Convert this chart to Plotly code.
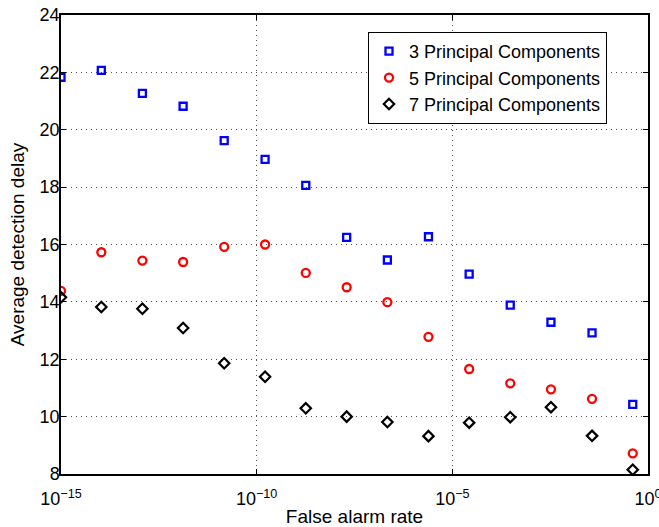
import plotly.graph_objects as go

# log10 of false alarm rate for each operating point
log_far = [-15.0, -13.97, -12.92, -11.88, -10.83, -9.785, -8.745, -7.70,
           -6.66, -5.61, -4.57, -3.52, -2.48, -1.43, -0.39]
far = [10 ** v for v in log_far]

pc3 = [21.83, 22.07, 21.27, 20.82, 19.62, 18.97, 18.06, 16.25,
       15.46, 16.27, 14.97, 13.89, 13.29, 12.92, 10.43]
pc5 = [14.38, 15.73, 15.44, 15.39, 15.92, 16.0, 15.01, 14.51,
       13.99, 12.78, 11.66, 11.16, 10.95, 10.62, 8.72]
pc7 = [14.16, 13.82, 13.76, 13.09, 11.86, 11.39, 10.29, 10.0,
       9.81, 9.32, 9.79, 9.98, 10.33, 9.33, 8.15]

names = ["3 Principal Components", "5 Principal Components", "7 Principal Components"]
x_tickvals = [1e-15, 1e-10, 1e-5, 1]
x_ticktext = ["10<sup>\u221215</sup>", "10<sup>\u221210</sup>", "10<sup>\u22125</sup>", "10<sup>0</sup>"]
y_tickvals = [8, 10, 12, 14, 16, 18, 20, 22, 24]

fig = go.Figure()
fig.add_trace(go.Scatter(x=far, y=pc3, mode="markers", name=names[0],
                         marker=dict(symbol="square-open", size=7, color="#0000ff",
                                     line=dict(width=2.3, color="#0000ff"))))
fig.add_trace(go.Scatter(x=far, y=pc5, mode="markers", name=names[1],
                         marker=dict(symbol="circle-open", size=8, color="#ff0000",
                                     line=dict(width=2.3, color="#ff0000"))))
fig.add_trace(go.Scatter(x=far, y=pc7, mode="markers", name=names[2],
                         marker=dict(symbol="diamond-open", size=8, color="#000000",
                                     line=dict(width=2.2, color="#000000"))))

font_family = "Liberation Sans, Arial, Helvetica, sans-serif"
grid_dash = "1px,4px"
fig.update_layout(
    width=659, height=527,
    margin=dict(l=61, r=11, t=15, b=53, autoexpand=False),
    paper_bgcolor="white", plot_bgcolor="white",
    font=dict(family=font_family, size=18, color="black"),
    showlegend=True,
    legend=dict(x=0.523, y=0.963, xanchor="left", yanchor="top",
                bgcolor="white", bordercolor="black", borderwidth=1,
                font=dict(size=18, color="black"), tracegroupgap=0,
                itemwidth=30),
)
fig.update_xaxes(
    type="log", range=[-15, 0], automargin=False,
    tickvals=x_tickvals, ticktext=x_ticktext,
    ticks="inside", ticklen=5, tickcolor="black",
    showline=True, linecolor="black", linewidth=1.5, mirror="ticks",
    showgrid=True, gridcolor="#555555", griddash=grid_dash, gridwidth=1,
    zeroline=False, ticklabeloverflow="allow", ticklabelstandoff=8,
    title=dict(text="False alarm rate", standoff=3, font=dict(size=19)),
    tickfont=dict(size=18),
)
fig.update_yaxes(
    range=[8, 24], tickvals=y_tickvals, automargin=False,
    ticks="inside", ticklen=5, tickcolor="black",
    showline=True, linecolor="black", linewidth=1.5, mirror="ticks",
    showgrid=True, gridcolor="#555555", griddash=grid_dash, gridwidth=1,
    zeroline=False, ticklabelstandoff=-4, ticklabeloverflow="allow",
    title=dict(text="Average detection delay", standoff=10, font=dict(size=19)),
    tickfont=dict(size=18),
)

fig.write_html("out.html", config={"displayModeBar": False})

# remove the browser's default body margin so the figure sits at the page origin
with open("out.html", "r", encoding="utf-8") as f:
    html = f.read()
html = html.replace("<body>", '<body style="margin:0;padding:0;">', 1)
with open("out.html", "w", encoding="utf-8") as f:
    f.write(html)
